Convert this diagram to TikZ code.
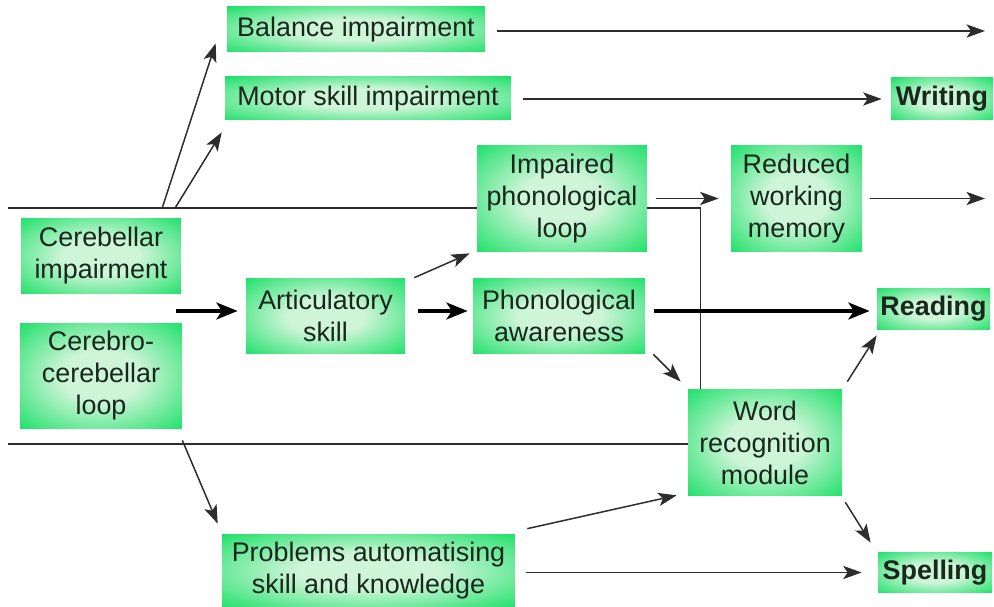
\documentclass[tikz,border=0pt]{standalone}
\usepackage{fontspec}
\setmainfont{Liberation Sans}
\usepackage{tikz}
\usetikzlibrary{arrows.meta}

\definecolor{boxout}{RGB}{28,224,104}
\definecolor{boxin}{RGB}{206,245,216}
\definecolor{inkgray}{RGB}{45,45,45}
\definecolor{boxtext}{RGB}{24,40,28}
\pgfdeclareradialshading{glow}{\pgfpoint{0bp}{0bp}}{color(0bp)=(boxin); color(12bp)=(boxin); color(36bp)=(boxout); color(50bp)=(boxout)}

\tikzset{
    box/.style={shading=glow, align=center, inner sep=0pt, text=boxtext,
        font=\fontsize{15.3}{18.2}\selectfont},
    outbox/.style={box, font=\fontsize{15.3}{18.2}\selectfont\bfseries},
    arr/.style={draw=inkgray, line width=0.85pt, -{Stealth[length=10.5pt,width=7.5pt,inset=2.5pt]}},
    bigarr/.style={draw=black, line width=2.4pt, -{Stealth[length=12pt,width=9.5pt,inset=3pt]}},
    divider/.style={draw=inkgray, line width=0.9pt}
}

\begin{document}
\begin{tikzpicture}[x=0.02cm, y=-0.02cm]
    \useasboundingbox (0,0) rectangle (994,607);

    % Boxes - causes
    \node[box, minimum width=5.16cm, minimum height=0.90cm] (bal) at (356,29.5) {Balance impairment};
    \node[box, minimum width=5.72cm, minimum height=0.86cm] (mot) at (368,98.5) {Motor skill impairment};
    \node[box, minimum width=3.20cm, minimum height=1.52cm] (cer) at (101,256) {Cerebellar\\impairment};
    \node[box, minimum width=3.24cm, minimum height=2.12cm] (cbl) at (101,376) {Cerebro-\\cerebellar\\loop};
    \node[box, minimum width=3.18cm, minimum height=1.52cm] (art) at (325.5,316) {Articulatory\\skill};
    \node[box, minimum width=3.40cm, minimum height=2.14cm] (imp) at (562,198.5) {Impaired\\phonological\\loop};
    \node[box, minimum width=3.44cm, minimum height=1.52cm] (pho) at (559,316) {Phonological\\awareness};
    \node[box, minimum width=2.62cm, minimum height=2.14cm] (red) at (796.5,198.5) {Reduced\\working\\memory};
    \node[box, minimum width=3.08cm, minimum height=2.14cm] (wrm) at (765,442.5) {Word\\recognition\\module};
    \node[box, minimum width=5.86cm, minimum height=1.48cm] (pro) at (368.5,571) {Problems automatising\\skill and knowledge};

    % Boxes - outcomes
    \node[outbox, minimum width=2.04cm, minimum height=0.84cm] (wri) at (942,99) {Writing};
    \node[outbox, minimum width=2.26cm, minimum height=0.84cm] (rea) at (933.5,309) {Reading};
    \node[outbox, minimum width=2.28cm, minimum height=0.82cm] (spe) at (935,572.5) {Spelling};

    % Dividing lines
    \coordinate (ltop) at (8,208);
    \coordinate (lbot) at (8,444);
    \draw[divider] (ltop) -- (ltop -| imp.west);
    \draw[divider] (lbot) -- (lbot -| wrm.west);
    \draw[divider] (imp.east |- ltop) -| ([shift={(13,0)}]wrm.north west);

    % Arrows out of the cerebellum
    \draw[arr] ([shift={(-19,-10)}]cer.north east) -- ([shift={(-11,-9)}]bal.south west);
    \draw[arr] ([shift={(-6,-10)}]cer.north east) -- ([shift={(-3,12)}]mot.south west);
    \draw[arr] ([shift={(0,11)}]cbl.south east) -- ([shift={(-4,-10)}]pro.north west);

    % Thick main route
    \coordinate (cin) at (176,311);
    \draw[bigarr, shorten >=0.16cm] (cin) -- (cin -| art.west);
    \draw[bigarr, shorten <=0.26cm, shorten >=0.10cm] (cin -| art.east) -- (cin -| pho.west);
    \draw[bigarr, shorten <=0.18cm, shorten >=0.14cm] (cin -| pho.east) -- (cin -| rea.west);

    % Other arrows
    \coordinate (balend) at (985,31);
    \coordinate (redend) at (985,198.5);
    \draw[arr, shorten <=0.24cm] (bal.east |- balend) -- (balend);
    \draw[arr, shorten <=0.24cm, shorten >=0.18cm] (mot.east |- wri.west) -- (wri.west);
    \draw[arr, shorten <=0.18cm, shorten >=0.24cm] (imp.east) -- (red.west);
    \draw[arr, shorten <=0.16cm] (red.east) -- (redend);
    \draw[arr] ([shift={(9,0)}]art.north east) -- ([shift={(-7,1)}]imp.south west);
    \draw[arr] ([shift={(8,0)}]pho.south east) -- ([shift={(-7,-7)}]wrm.north west);
    \draw[arr] ([shift={(5,-7)}]wrm.north east) -- ([shift={(0,5)}]rea.south west);
    \draw[arr] ([shift={(3,6)}]wrm.south east) -- ([shift={(-7,-9)}]spe.north west);
    \draw[arr] ([shift={(12,-5)}]pro.north east) -- ([shift={(-11,-1)}]wrm.south west);
    \draw[arr, shorten <=0.22cm, shorten >=0.32cm] (pro.east |- spe.west) -- (spe.west);
\end{tikzpicture}
\end{document}
